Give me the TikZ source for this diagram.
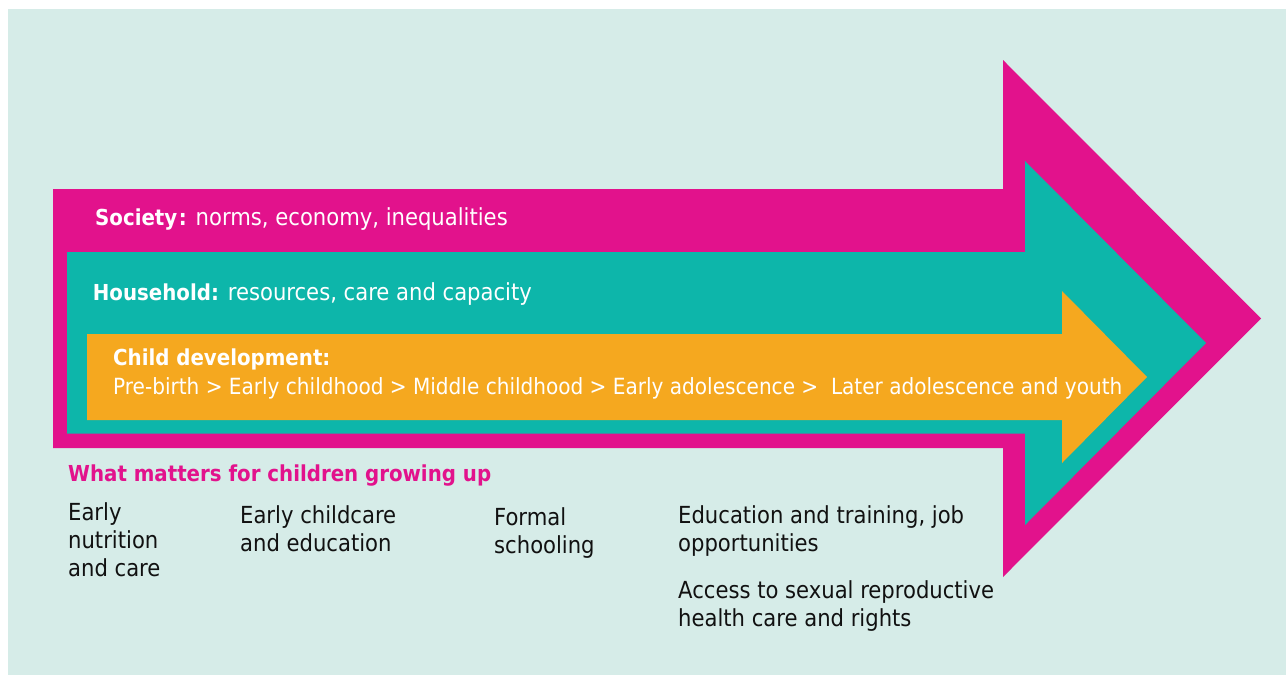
\documentclass[tikz,border=0pt]{standalone}
\usepackage{fontspec}
\setmainfont{DejaVu Sans Condensed}
\definecolor{bgc}{HTML}{D6ECE8}
\definecolor{pinkc}{HTML}{E2128C}
\definecolor{tealc}{HTML}{0DB6AA}
\definecolor{orangec}{HTML}{F5A81F}
\definecolor{inkc}{HTML}{111111}
\newcommand{\boldpart}[1]{{\fontsize{22}{28.3}\selectfont\bfseries #1}}
\begin{document}
\begin{tikzpicture}[x=1pt,y=-1pt,
  lbl/.style={anchor=base west, inner sep=0pt, font=\fontsize{23.5}{28.3}\selectfont},
  inlbl/.style={lbl, text=white},
  outlbl/.style={lbl, text=inkc, align=left},
  headlbl/.style={lbl, text=pinkc, font=\fontsize{22}{28.3}\selectfont\bfseries}]
\useasboundingbox (0,0) rectangle (1286,675);
\fill[white] (0,0) rectangle (1286,675);
\fill[bgc] (8,9) rectangle (1286,675);
% society arrow
\fill[pinkc] (53,189) -- (1003,189) -- (1003,60) -- (1261,318.5) -- (1003,577) -- (1003,448) -- (53,448) -- cycle;
% household arrow
\fill[tealc] (67,252) -- (1025,252) -- (1025,161) -- (1206,343) -- (1025,525) -- (1025,433.5) -- (67,433.5) -- cycle;
% child arrow
\fill[orangec] (87,334) -- (1062,334) -- (1062,291) -- (1147,377) -- (1062,463) -- (1062,420) -- (87,420) -- cycle;
% labels
\node[inlbl] (soc) at (95,225.7) {\boldpart{Society\kern1.5pt:} norms, economy, inequalities};
\node[inlbl] (hh) at (92.7,300) {\boldpart{Household:} resources, care and capacity};
\node[inlbl, font=\fontsize{22}{28.3}\selectfont\bfseries] (cd1) at (113,365) {Child development:};
\node[inlbl, font=\fontsize{22.3}{28.3}\selectfont] (cd2) at (113,394) {Pre-birth > Early childhood > Middle childhood > Early adolescence >\ \ Later adolescence and youth};
\node[headlbl] (wm) at (68,481.7) {What matters for children growing up};
\node[outlbl] (c1) at (68,576.7) {Early\\nutrition\\and care};
\node[outlbl] (c2) at (240,551.7) {Early childcare\\and education};
\node[outlbl] (c3) at (494,553.3) {Formal\\schooling};
\node[outlbl] (c4) at (678,551.7) {Education and training, job\\opportunities};
\node[outlbl] (c5) at (678,626.7) {Access to sexual reproductive\\health care and rights};
\end{tikzpicture}
\end{document}
